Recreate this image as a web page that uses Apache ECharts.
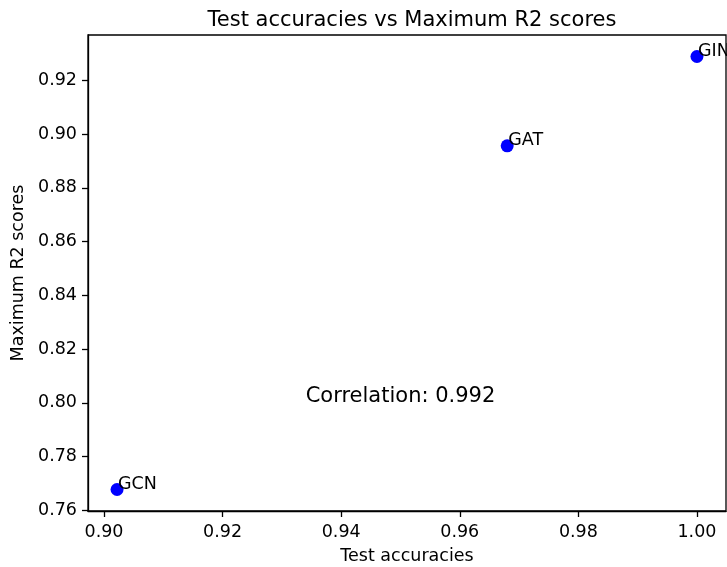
<!DOCTYPE html>
<html>
<head>
<meta charset="utf-8">
<script src="https://cdn.jsdelivr.net/npm/echarts@6/dist/echarts.min.js"></script>
<style>
	html, body { margin: 0; padding: 0; background: #fff; }
	#chart { width: 727px; height: 567px; }
</style>
</head>
<body>
<div id="chart"></div>
<script>
// 模型名称与数值
let models = ['GCN', 'GAT', 'GIN']
let testAcc = [0.9022, 0.9680, 1.0000]
let maxR2 = [0.7678, 0.8956, 0.9288]
let xTicks = [0.90, 0.92, 0.94, 0.96, 0.98, 1.00]
let yTicks = [0.76, 0.78, 0.80, 0.82, 0.84, 0.86, 0.88, 0.90, 0.92]
let corrText = 'Correlation: 0.992'
let corrPos = [0.95, 0.80]

let font = 'DejaVu Sans'
let tickSize = 17.5

let points = models.map((name, i) => ({ name: name, value: [testAcc[i], maxR2[i]] }))

let opt = {
	animation: false,
	backgroundColor: '#fff',
	title: {
		text: 'Test accuracies vs Maximum R2 scores',
		left: 407,
		textAlign: 'center',
		top: 5,
		textStyle: { fontFamily: font, fontSize: 21, fontWeight: 'normal', color: '#000' }
	},
	grid: {
		left: 88,
		right: 1,
		top: 35,
		bottom: 56,
		outerBoundsMode: 'none',
		containLabel: false,
		show: true,
		borderColor: '#000',
		borderWidth: 1.3
	},
	xAxis: {
		type: 'value',
		min: 0.8973,
		max: 1.0049,
		name: 'Test accuracies',
		nameLocation: 'middle',
		nameGap: 36,
		nameTextStyle: { fontFamily: font, fontSize: tickSize, color: '#000' },
		axisLine: { show: true, lineStyle: { color: '#000', width: 1.3 } },
		axisTick: { show: true, length: 6, lineStyle: { color: '#000', width: 1.3 }, customValues: xTicks },
		axisLabel: {
			customValues: xTicks,
			margin: 12,
			fontFamily: font, fontSize: tickSize, color: '#000',
			formatter: v => v.toFixed(2)
		},
		splitLine: { show: false }
	},
	yAxis: {
		type: 'value',
		min: 0.7598,
		max: 0.9368,
		name: 'Maximum R2 scores',
		nameLocation: 'middle',
		nameGap: 60,
		nameTextStyle: { fontFamily: font, fontSize: tickSize, color: '#000' },
		axisLine: { show: true, lineStyle: { color: '#000', width: 1.3 } },
		axisTick: { show: true, length: 6, lineStyle: { color: '#000', width: 1.3 }, customValues: yTicks },
		axisLabel: {
			customValues: yTicks,
			margin: 11,
			fontFamily: font, fontSize: tickSize, color: '#000',
			formatter: v => v.toFixed(2)
		},
		splitLine: { show: false }
	},
	series: [
		{
			type: 'scatter',
			symbol: 'circle',
			symbolSize: 13,
			itemStyle: { color: '#0000ff', opacity: 1 },
			data: points,
			label: {
				show: true,
				formatter: p => p.name,
				position: [7.5, 10.5],
				align: 'left',
				verticalAlign: 'bottom',
				fontFamily: font,
				fontSize: tickSize,
				color: '#000'
			}
		},
		{
			type: 'scatter',
			symbolSize: 0,
			silent: true,
			itemStyle: { opacity: 1 },
			data: [{ name: corrText, value: corrPos }],
			label: {
				show: true,
				formatter: p => p.name,
				position: [0, 4],
				align: 'center',
				verticalAlign: 'bottom',
				fontFamily: font,
				fontSize: 21,
				color: '#000'
			}
		}
	]
}

let myChart = echarts.init(document.querySelector('#chart'))
myChart.setOption(opt, true)
</script>
</body>
</html>
